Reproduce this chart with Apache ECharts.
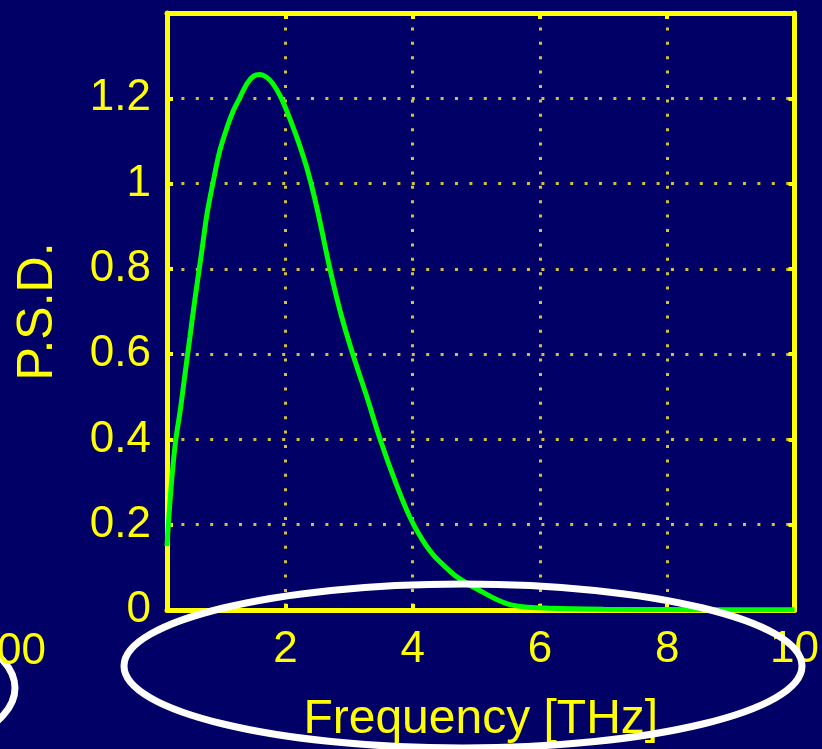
<!DOCTYPE html>
<html>
<head>
<meta charset="utf-8">
<title>P.S.D.</title>
<script src="https://cdn.jsdelivr.net/npm/echarts@6/dist/echarts.min.js"></script>
<style>
  html, body { margin: 0; padding: 0; background: #000066; }
  #chart { width: 822px; height: 749px; }
</style>
</head>
<body>
<div id="chart"></div>
<script>
  // values
  var freqTHz = [0.14, 0.2, 0.27, 0.35, 0.42, 0.5, 0.58, 0.69, 0.77, 0.86, 0.97, 1.08, 1.18, 1.28, 1.4, 1.5, 1.6, 1.7, 1.8, 1.92, 2.05, 2.2, 2.35, 2.5, 2.7, 2.88, 3.07, 3.28, 3.49, 3.73, 3.95, 4.15, 4.32, 4.5, 4.7, 5.06, 5.5, 6.0, 7.0, 8.0, 9.0, 10.0];
  var psd = [0.15, 0.28, 0.39, 0.47, 0.55, 0.64, 0.73, 0.845, 0.93, 1.0, 1.077, 1.13, 1.17, 1.2, 1.235, 1.252, 1.256, 1.25, 1.235, 1.205, 1.16, 1.1, 1.03, 0.94, 0.8, 0.69, 0.595, 0.5, 0.4, 0.3, 0.22, 0.165, 0.13, 0.103, 0.077, 0.045, 0.014, 0.005, 0.002, 0.001, 0.0005, 0.0003];
  var xTicks = [2, 4, 6, 8, 10];
  var yTicks = [0, 0.2, 0.4, 0.6, 0.8, 1, 1.2];

  var yellow = '#ffff00';
  var font = "'Liberation Sans', Arial, Helvetica, sans-serif";

  var points = freqTHz.map(function (f, i) { return [f, psd[i]]; });

  var gridDots = { color: '#d2c13c', width: 3, type: [3, 11.4] };

  function mirrorAxis(base) {
    // top / right edge of the box, ticks only
    return Object.assign({
      axisLine: { show: true, onZero: false, lineStyle: { color: yellow, width: 5 } },
      axisLabel: { show: false },
      splitLine: { show: false }
    }, base);
  }

  var myChart = echarts.init(document.getElementById('chart'));
  var option = {
    backgroundColor: '#000066',
    animation: false,
    grid: { left: 167, right: 27, top: 13, bottom: 137, containLabel: false },
    xAxis: [
      {
        type: 'value',
        min: 0.14,
        max: 10,
        name: 'Frequency [THz]',
        nameLocation: 'middle',
        nameGap: 86,
        nameTextStyle: { color: yellow, fontSize: 48, fontFamily: font },
        axisLine: { show: true, onZero: false, lineStyle: { color: yellow, width: 5 } },
        axisTick: { show: true, inside: true, length: 6, customValues: xTicks, lineStyle: { color: yellow, width: 4 } },
        axisLabel: { color: yellow, fontSize: 44, fontFamily: font, margin: 18, customValues: xTicks },
        splitLine: { show: true, lineStyle: gridDots }
      },
      mirrorAxis({
        type: 'value', position: 'top', min: 0.14, max: 10,
        axisTick: { show: true, inside: true, length: 6, customValues: xTicks, lineStyle: { color: yellow, width: 4 } }
      })
    ],
    yAxis: [
      {
        type: 'value',
        min: 0,
        max: 1.4,
        name: 'P.S.D.',
        nameLocation: 'middle',
        nameRotate: 90,
        nameGap: 104,
        nameTextStyle: { color: yellow, fontSize: 50, fontFamily: font },
        axisLine: { show: true, onZero: false, lineStyle: { color: yellow, width: 5 } },
        axisTick: { show: true, inside: true, length: 6, customValues: yTicks, lineStyle: { color: yellow, width: 4 } },
        axisLabel: { color: yellow, fontSize: 44, fontFamily: font, margin: 16, customValues: yTicks },
        splitLine: { show: true, lineStyle: gridDots }
      },
      mirrorAxis({
        type: 'value', position: 'right', min: 0, max: 1.4,
        axisTick: { show: true, inside: true, length: 6, customValues: yTicks, lineStyle: { color: yellow, width: 4 } }
      })
    ],
    series: [
      {
        type: 'line',
        data: points,
        smooth: 0.35,
        showSymbol: false,
        lineStyle: { color: '#00ff00', width: 5 },
        z: 3
      }
    ],
    graphic: [
      // annotation ellipses and the cut-off label of the neighbouring plot
      { type: 'ellipse', shape: { cx: 463, cy: 666, rx: 339, ry: 82 }, style: { fill: null, stroke: '#ffffff', lineWidth: 7 }, z: 100 },
      { type: 'ellipse', shape: { cx: -135, cy: 688, rx: 150, ry: 70 }, style: { fill: null, stroke: '#ffffff', lineWidth: 7 }, z: 100 },
      { type: 'text', x: 46, y: 652, style: { text: '00', fill: yellow, fontSize: 44, fontFamily: font, align: 'right', verticalAlign: 'middle' }, z: 100 }
    ]
  };
  myChart.setOption(option, true);
</script>
</body>
</html>
